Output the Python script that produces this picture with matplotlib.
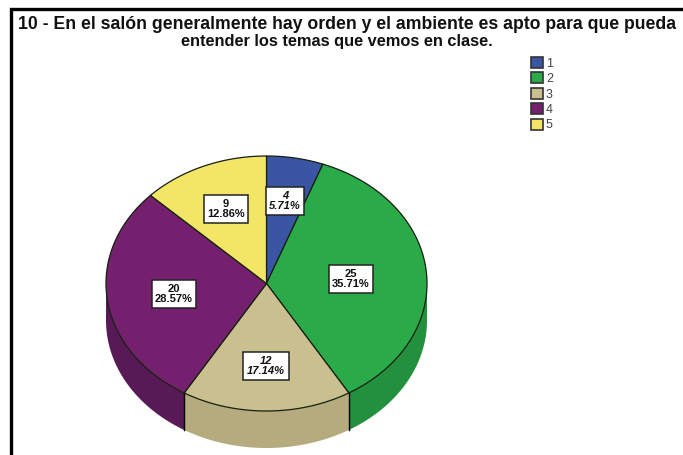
import numpy as np
import matplotlib.pyplot as plt
from matplotlib.patches import Patch

plt.rcParams['font.family'] = ['Liberation Sans', 'DejaVu Sans']

# datos
categories = ['1', '2', '3', '4', '5']
counts = [4, 25, 12, 20, 9]
percents = ['5.71%', '35.71%', '17.14%', '28.57%', '12.86%']
colors = ['#3B55A5', '#2BAA4A', '#C9BF8F', '#74206F', '#F3E566']
side_colors = ['#2E4384', '#23903D', '#B5AB7E', '#571A56', '#C9BE50']
title_1 = '10 - En el salón generalmente hay orden y el ambiente es apto para que pueda'
title_2 = 'entender los temas que vemos en clase.'

# geometria en pixeles
cx, cy = 266.5, 283.5
rx, ry = 160.5, 127.5
depth = 37
label_x = [285, 351, 266, 174, 226]
label_y = [201, 279, 366, 294, 209]

fig = plt.figure(figsize=(6.83, 4.55), dpi=100)
ax = fig.add_axes([0, 0, 1, 1])
ax.set_xlim(0, 683)
ax.set_ylim(455, 0)
ax.axis('off')

# marco
ax.plot([11, 11, 683], [455, 9, 9], color='black', linewidth=2.4,
        solid_joinstyle='miter')

edges = np.cumsum([0] + counts) / sum(counts) * 2 * np.pi

# lado del pastel
for i in range(len(counts)):
    a1 = max(edges[i], np.pi / 2)
    a2 = min(edges[i + 1], 3 * np.pi / 2)
    if a2 <= a1:
        continue
    a = np.linspace(a1, a2, 80)
    x = cx + rx * np.sin(a)
    y = cy - ry * np.cos(a)
    ax.fill(np.r_[x, x[::-1]], np.r_[y, y[::-1] + depth],
            facecolor=side_colors[i], edgecolor='none', zorder=2)
    for e in (edges[i], edges[i + 1]):
        if np.pi / 2 < e < 3 * np.pi / 2:
            xe = cx + rx * np.sin(e)
            ye = cy - ry * np.cos(e)
            ax.plot([xe, xe], [ye, ye + depth], color='black', linewidth=0.9, zorder=3)

# cara superior
for i in range(len(counts)):
    a = np.linspace(edges[i], edges[i + 1], 150)
    x = np.r_[cx, cx + rx * np.sin(a)]
    y = np.r_[cy, cy - ry * np.cos(a)]
    ax.fill(x, y, facecolor=colors[i], edgecolor='#14200f', linewidth=0.9, zorder=4)

# etiquetas
for i in range(len(counts)):
    ax.text(label_x[i], label_y[i], f'{counts[i]}\n{percents[i]}', ha='center', va='center',
            fontsize=8, fontweight='bold', style='italic' if i in (0, 2) else 'normal',
            linespacing=1.05, color='#111111', zorder=6,
            bbox=dict(boxstyle='square,pad=0.32', facecolor='white', edgecolor='#222222',
                      linewidth=1.1))

# titulo
ax.text(18, 29, title_1, ha='left', va='baseline', fontsize=12.7, fontweight='bold',
        color='#111111')
ax.text(181, 46, title_2, ha='left', va='baseline', fontsize=11.8, fontweight='bold',
        color='#111111')

# leyenda
handles = [Patch(facecolor=colors[i], edgecolor='#333333', linewidth=1.2)
           for i in range(len(categories))]
ax.legend(handles, categories, loc='upper left', bbox_to_anchor=(531 / 683, 1 - 57 / 455),
          frameon=False, fontsize=9, handlelength=0.95, handleheight=0.95,
          handletextpad=0.25, labelspacing=0.22, borderpad=0, borderaxespad=0,
          labelcolor='#444444')

fig.savefig('out.png', dpi=100)
